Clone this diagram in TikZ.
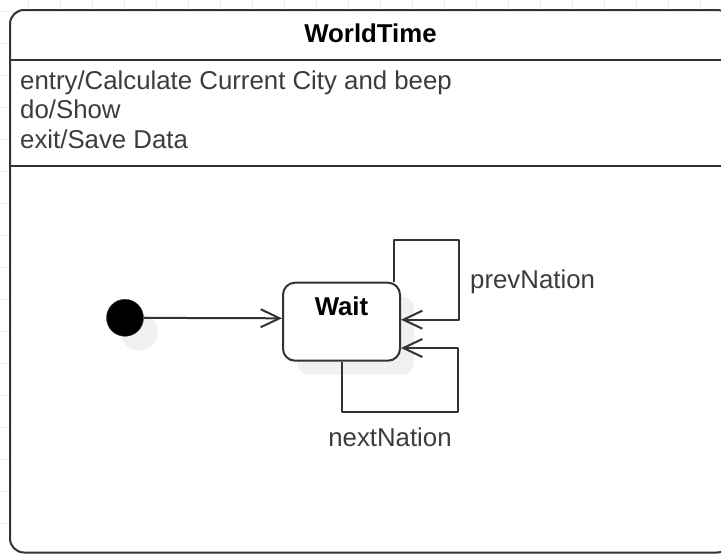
\documentclass[tikz,border=0pt]{standalone}
\usepackage{fontspec}
\setmainfont{Liberation Sans}
\usetikzlibrary{arrows.meta,shadows}
\definecolor{umlline}{RGB}{51,51,51}
\definecolor{umltext}{RGB}{60,60,60}
\definecolor{gridgray}{RGB}{236,236,236}
\definecolor{shadowgray}{RGB}{240,240,240}
\newcommand{\umlfont}{\fontsize{25.8}{30}\selectfont}
\tikzset{
  uml/.style={
    line width=2pt,
    draw=umlline,
    line join=round
  },
  gridline/.style={line width=1pt, draw=gridgray},
  soft-shadow/.style={
    drop shadow={shadow xshift=14pt, shadow yshift=-14pt, fill=shadowgray, opacity=1}
  },
  state-title/.style={font=\umlfont\bfseries, text=black, inner sep=0pt},
  state-act/.style={font=\umlfont, text=umltext, inner sep=0pt, anchor=base west},
  state-box/.style={
    uml, rectangle, rounded corners=12pt, fill=white, soft-shadow,
    minimum width=117pt, minimum height=78pt, inner sep=0pt,
    font=\umlfont\bfseries, text depth=31pt, text height=18pt
  },
  state-init/.style={circle, fill=black, draw=umlline, minimum size=37pt, inner sep=0pt, soft-shadow},
  trans/.style={uml, -{Straight Barb[length=19pt, width=18pt]}},
  trans-label/.style={font=\umlfont, text=umltext, inner sep=0pt}
}

\begin{document}
\begin{tikzpicture}[x=1pt, y=-1pt]
  \clip (0,0) rectangle (721,554);
  \fill[white] (0,0) rectangle (721,554);
  % Background grid
  \foreach \gx in {28,60,...,732}
    \draw[gridline] (\gx,0) -- (\gx,554);
  \foreach \gy in {11,43,...,554}
    \draw[gridline] (0,\gy) -- (721,\gy);
  % Composite state
  \draw[uml, fill=white, rounded corners=14pt] (10,10) rectangle (731,552.5);
  \draw[uml] (10,60) -- (731,60);
  \draw[uml] (10,166) -- (731,166);
  \node[state-title, anchor=base] (title) at (370.5,42.7) {WorldTime};
  \node[state-act] (entry) at (20,89.3) {entry/Calculate Current City and beep};
  \node[state-act] (do) at (20,118.8) {do/Show};
  \node[state-act] (exit) at (20,148.3) {exit/Save Data};
  % Inner states
  \node[state-init] (init) at (125,317.8) {};
  \node[state-box] (wait) at (341.5,321.7) {Wait};
  % Transitions
  \draw[trans] (init) -- ([yshift=3.4pt]wait.west);
  \draw[trans] ([xshift=-6.7pt]wait.north east) |- ++(65,-42) |- ([yshift=2pt]wait.east);
  \draw[trans] (wait.south) |- ++(116.8,50) |- ([yshift=-26.3pt]wait.east);
  \node[trans-label, anchor=base west] (prev) at (470,288.3) {prevNation};
  \node[trans-label, anchor=base] (next) at (390,446.7) {nextNation};
\end{tikzpicture}
\end{document}
